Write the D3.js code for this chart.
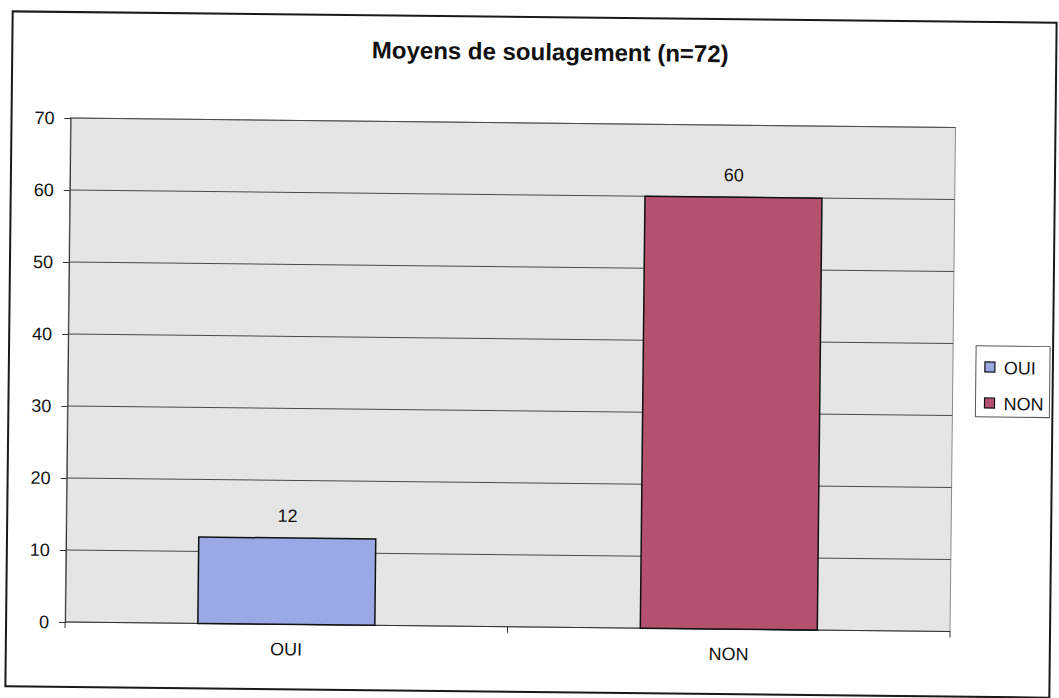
<!DOCTYPE html>
<html>
<head>
<meta charset="utf-8">
<script src="https://cdn.jsdelivr.net/npm/d3@7"></script>
<style>
  html, body { margin: 0; padding: 0; background: #fff; }
  svg { display: block; }
  text { font-family: "Liberation Sans", Arial, sans-serif; fill: #111; }
</style>
</head>
<body>
<svg id="chart" width="1059" height="698"></svg>
<script>
// chart data
const categories = ['OUI', 'NON'];
const values = [12, 60];
const barColors = ['#9aa8e6', '#b4516f'];
const yTicks = [0, 10, 20, 30, 40, 50, 60, 70];
const chartTitle = 'Moyens de soulagement (n=72)';

const svg = d3.select('#chart');

// the scan is tilted a little, so the whole chart gets a small rotation
const root = svg.append('g')
  .attr('transform', 'rotate(0.62, 530, 355)');

// outer chart border
root.append('rect')
  .attr('x', 9).attr('y', 17)
  .attr('width', 1044).attr('height', 675)
  .attr('fill', '#fff')
  .attr('stroke', '#1a1a1a')
  .attr('stroke-width', 2);

const plot = { left: 68, right: 953, top: 123, bottom: 627 };

const x = d3.scaleBand()
  .domain(categories)
  .range([plot.left, plot.right])
  .paddingInner(0.6)
  .paddingOuter(0.3);

const y = d3.scaleLinear()
  .domain([0, 70])
  .range([plot.bottom, plot.top]);

// plot background
root.append('rect')
  .attr('x', plot.left).attr('y', plot.top)
  .attr('width', plot.right - plot.left)
  .attr('height', plot.bottom - plot.top)
  .attr('fill', '#e5e5e5')
  .attr('stroke', '#8a8a8a')
  .attr('stroke-width', 1);

// horizontal gridlines
root.append('g')
  .selectAll('line')
  .data(yTicks.filter(d => d > 0))
  .enter().append('line')
  .attr('x1', plot.left).attr('x2', plot.right)
  .attr('y1', d => y(d)).attr('y2', d => y(d))
  .attr('stroke', '#4a4a4a')
  .attr('stroke-width', 1);

// y axis
const yAxis = root.append('g')
  .attr('transform', `translate(${plot.left},0)`)
  .call(d3.axisLeft(y).tickValues(yTicks).tickSize(6).tickPadding(10));
yAxis.select('.domain').attr('stroke', '#333');
yAxis.selectAll('.tick line').attr('stroke', '#333');
yAxis.selectAll('.tick text')
  .attr('font-size', 18)
  .style('font-family', '"Liberation Sans", Arial, sans-serif')
  .attr('fill', '#111');

// x axis line with ticks at the category boundaries
root.append('line')
  .attr('x1', plot.left).attr('x2', plot.right)
  .attr('y1', plot.bottom).attr('y2', plot.bottom)
  .attr('stroke', '#333');

const step = x.step();
const boundaries = [plot.left, plot.left + step, plot.right];
root.append('g')
  .selectAll('line')
  .data(boundaries)
  .enter().append('line')
  .attr('x1', d => d).attr('x2', d => d)
  .attr('y1', plot.bottom).attr('y2', plot.bottom + 6)
  .attr('stroke', '#333');

// category labels
root.append('g')
  .selectAll('text')
  .data(categories)
  .enter().append('text')
  .attr('x', d => x(d) + x.bandwidth() / 2)
  .attr('y', plot.bottom + 31)
  .attr('text-anchor', 'middle')
  .attr('font-size', 18)
  .text(d => d);

// bars
root.append('g')
  .selectAll('rect')
  .data(values)
  .enter().append('rect')
  .attr('x', (d, i) => x(categories[i]))
  .attr('y', d => y(d))
  .attr('width', x.bandwidth())
  .attr('height', d => y(0) - y(d))
  .attr('fill', (d, i) => barColors[i])
  .attr('stroke', '#111')
  .attr('stroke-width', 1.5);

// value labels
root.append('g')
  .selectAll('text')
  .data(values)
  .enter().append('text')
  .attr('x', (d, i) => x(categories[i]) + x.bandwidth() / 2)
  .attr('y', d => y(d) - 16)
  .attr('text-anchor', 'middle')
  .attr('font-size', 18)
  .text(d => d);

// title
root.append('text')
  .attr('x', 547)
  .attr('y', 60)
  .attr('text-anchor', 'middle')
  .attr('font-size', 24)
  .attr('font-weight', 'bold')
  .text(chartTitle);

// legend
const legend = root.append('g').attr('transform', 'translate(976,341)');
legend.append('rect')
  .attr('width', 74).attr('height', 71)
  .attr('fill', '#fff')
  .attr('stroke', '#555')
  .attr('stroke-width', 1);

const item = legend.selectAll('g.item')
  .data(categories)
  .enter().append('g')
  .attr('class', 'item')
  .attr('transform', (d, i) => `translate(9,${22 + i * 36})`);

item.append('rect')
  .attr('x', 0).attr('y', -6)
  .attr('width', 10).attr('height', 10)
  .attr('fill', (d, i) => barColors[i])
  .attr('stroke', '#111')
  .attr('stroke-width', 1.2);

item.append('text')
  .attr('x', 19)
  .attr('y', 6)
  .attr('font-size', 18)
  .text(d => d);
</script>
</body>
</html>
